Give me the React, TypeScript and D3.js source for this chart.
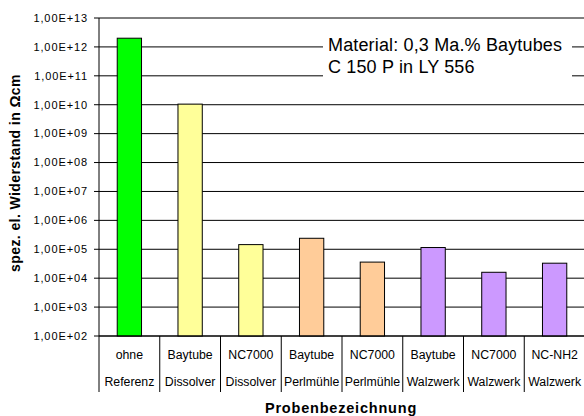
import React from "react";
import * as d3 from "d3";

// Probenbezeichnung (zwei Zeilen) und Widerstandswerte
const line1 = ["ohne", "Baytube", "NC7000", "Baytube", "NC7000", "Baytube", "NC7000", "NC-NH2"];
const line2 = ["Referenz", "Dissolver", "Dissolver", "Perlmühle", "Perlmühle", "Walzwerk", "Walzwerk", "Walzwerk"];
const values = [2.0e12, 1.05e10, 1.45e5, 2.4e5, 3.6e4, 1.15e5, 1.6e4, 3.3e4];
const colors = ["#00FF00", "#FFFF99", "#FFFF99", "#FFCC99", "#FFCC99", "#CC99FF", "#CC99FF", "#CC99FF"];
const yTicks = [1e2, 1e3, 1e4, 1e5, 1e6, 1e7, 1e8, 1e9, 1e10, 1e11, 1e12, 1e13];

const width = 584, height = 416;
const margin = { top: 18, right: -1, bottom: 80, left: 99 };

const fmt = (v: number) => "1,00E+" + String(Math.round(Math.log10(v))).padStart(2, "0");

const App = () => {
    const x = d3.scaleBand<number>()
        .domain(values.map((_, i) => i))
        .range([margin.left, width - margin.right])
        .paddingInner(0.6)
        .paddingOuter(0.3);

    const y = d3.scaleLog()
        .domain([1e2, 1e13])
        .range([height - margin.bottom, margin.top]);

    const step = x.step();
    const x0 = margin.left;
    const yb = y(1e2);

    return (
        <svg width={width} height={height} style={{ position: "absolute", left: 0, top: 0, background: "#fff" }}
            fontFamily="Arial, 'Liberation Sans', sans-serif">
            {/* Gitterlinien */}
            {yTicks.map(t => (
                <line key={t} x1={x0} x2={width} y1={y(t)} y2={y(t)} stroke="#000" strokeWidth={1} />
            ))}
            {/* Beschriftung Material */}
            <rect x={323} y={36} width={249} height={46} fill="#fff" />
            <text x={328} y={51} fontSize={18} letterSpacing={0.15} fill="#000">Material: 0,3 Ma.% Baytubes</text>
            <text x={328} y={73} fontSize={18} letterSpacing={0.15} fill="#000">C 150 P in LY 556</text>

            {/* Balken */}
            {values.map((v, i) => (
                <rect key={i} x={x(i)} y={y(v)} width={x.bandwidth()} height={yb - y(v)}
                    fill={colors[i]} stroke="#000" strokeWidth={1} />
            ))}

            {/* Achsen */}
            <line x1={x0} x2={x0} y1={margin.top} y2={yb} stroke="#000" />
            <line x1={x0} x2={width} y1={yb} y2={yb} stroke="#000" />
            {yTicks.map(t => (
                <g key={"t" + t}>
                    <line x1={x0 - 5} x2={x0} y1={y(t)} y2={y(t)} stroke="#000" />
                    <text x={88} y={y(t)} dy="0.35em" textAnchor="end" fontSize={11} letterSpacing={0.9}>{fmt(t)}</text>
                </g>
            ))}

            {/* Kategorien */}
            {values.map((_, i) => {
                const left = x0 + i * step;
                const cx = left + step / 2;
                return (
                    <g key={"c" + i}>
                        <line x1={left} x2={left} y1={yb} y2={392} stroke="#000" />
                        <text x={cx} y={355} dy="0.35em" textAnchor="middle" fontSize={12.3}>{line1[i]}</text>
                        <text x={cx} y={382} dy="0.35em" textAnchor="middle" fontSize={12.3}>{line2[i]}</text>
                    </g>
                );
            })}

            {/* Achsentitel */}
            <text x={341} y={408} dy="0.35em" textAnchor="middle" fontSize={14.5} fontWeight="bold" letterSpacing={0.8}>Probenbezeichnung</text>
            <text transform={`translate(15,173) rotate(-90)`} textAnchor="middle" dy="0.35em" fontSize={14} fontWeight="bold" letterSpacing={0.4}>
                spez. el. Widerstand in <tspan fontSize={15}>Ω</tspan>cm
            </text>
        </svg>
    );
};

export default App;
